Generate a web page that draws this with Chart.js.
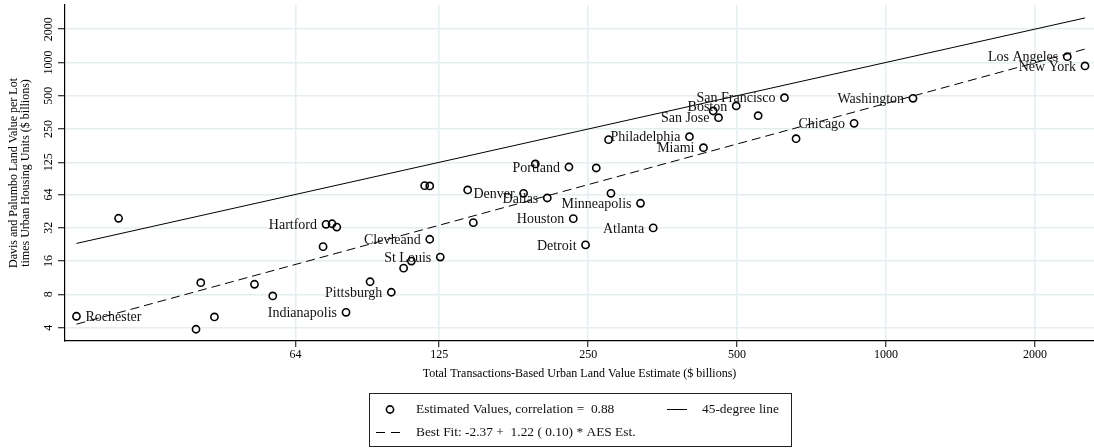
<!DOCTYPE html>
<html>
<head>
<meta charset="utf-8">
<script src="https://cdn.jsdelivr.net/npm/chart.js@4.4.1/dist/chart.umd.min.js"></script>
<style>
  html, body { margin: 0; padding: 0; background: #fff; overflow: hidden; }
  #wrap { width: 1094px; height: 448px; position: relative; }
  canvas { display: block; }
</style>
</head>
<body>
<div id="wrap"><canvas id="c" width="1094" height="448"></canvas></div>
<script>
// ---------------- data ----------------
const cityNames = [
  'Rochester', '', '', '', '', '', '', '', 'Hartford', '', '',
  'Indianapolis', '', 'Pittsburgh', '', '', '', '', 'Clevleand', 'St Louis',
  '', '', 'Denver', '', 'Dallas', 'Portland', 'Houston', 'Detroit', '', '', '',
  'Minneapolis', 'Atlanta', 'Philadelphia', 'Miami', '', 'San Jose', 'Boston', '',
  'San Francisco', '', 'Chicago', 'Washington', 'Los Angeles', 'New York'
];
const aesEstimate = [
  23.1, 28.1, 40.3, 41.2, 43.9, 52.9, 57.6, 72.8, 73.8, 75.9, 77.6,
  81.0, 90.6, 100.0, 105.9, 109.8, 116.8, 119.6, 119.6, 125.6,
  142.7, 146.5, 185.1, 195.5, 206.7, 228.6, 233.3, 247, 259.6, 274.9, 278,
  319, 338.4, 400.6, 427.6, 447.4, 458.6, 498, 551.5,
  623.4, 658, 862, 1134, 2325, 2525
];
const dpLandValue = [
  5.07, 39.0, 3.87, 10.2, 5.0, 9.87, 7.74, 21.6, 34.4, 34.8, 32.5,
  5.51, 10.4, 8.36, 13.8, 16.0, 76.9, 76.4, 25.2, 17.4,
  70.3, 35.6, 65.6, 120.8, 59.5, 113.4, 38.7, 22.4, 111.1, 200.3, 65.6,
  53.3, 31.9, 213.2, 169.5, 364, 316.5, 404, 330,
  480, 204.5, 281.7, 474, 1127, 929
];
const lineEndsX = [23.1, 2525];
const degree45Y = [23.1, 2525];
const bestFitY = [4.3, 1320];

const xTickValues = [64, 125, 250, 500, 1000, 2000];
const xTickLabels = ['64', '125', '250', '500', '1000', '2000'];
const yTickValues = [4, 8, 16, 32, 64, 125, 250, 500, 1000, 2000];
const yTickLabels = ['4', '8', '16', '32', '64', '125', '250', '500', '1000', '2000'];

const xTitle = 'Total Transactions-Based Urban Land Value Estimate ($ billions)';
const yTitle = ['Davis and Palumbo Land Value per Lot', 'times Urban Housing Units ($ billions)'];
const seriesLabels = [
  'Estimated Values, correlation =  0.88',
  '45-degree line',
  'Best Fit: -2.37 +  1.22 ( 0.10) * AES Est.'
];
const rightLabeled = ['Rochester'];

// ---------------- rendering ----------------
const SERIF = "'Liberation Serif', 'Times New Roman', Times, serif";

const pointsData = aesEstimate.map((x, i) => ({ x: x, y: dpLandValue[i] }));
const deg45Data = lineEndsX.map((x, i) => ({ x: x, y: degree45Y[i] }));
const fitData = lineEndsX.map((x, i) => ({ x: x, y: bestFitY[i] }));

const labelPlugin = {
  id: 'cityLabels',
  afterDatasetsDraw(chart) {
    const ctx = chart.ctx;
    const meta = chart.getDatasetMeta(0);
    ctx.save();
    ctx.font = '14px ' + SERIF;
    ctx.fillStyle = '#111';
    ctx.textBaseline = 'middle';
    meta.data.forEach((pt, i) => {
      const name = cityNames[i];
      if (!name) return;
      const right = rightLabeled.includes(name);
      ctx.textAlign = right ? 'left' : 'right';
      ctx.fillText(name, pt.x + (right ? 9 : -9), pt.y + 1);
    });
    ctx.restore();
  }
};

const legendPlugin = {
  id: 'boxLegend',
  afterDraw(chart) {
    const ctx = chart.ctx;
    const ds = chart.data.datasets;
    ctx.save();
    ctx.fillStyle = '#fff';
    ctx.fillRect(369.5, 393.5, 422, 53);
    ctx.strokeStyle = '#222';
    ctx.lineWidth = 1;
    ctx.strokeRect(369.5, 393.5, 422, 53);
    ctx.lineWidth = 1.6;
    ctx.strokeStyle = '#000';
    ctx.beginPath();
    ctx.arc(390, 409.5, 3.6, 0, Math.PI * 2);
    ctx.stroke();
    ctx.lineWidth = 1;
    ctx.beginPath();
    ctx.moveTo(667, 409.5); ctx.lineTo(687, 409.5);
    ctx.stroke();
    ctx.beginPath();
    ctx.moveTo(376, 432.5); ctx.lineTo(385, 432.5);
    ctx.moveTo(391, 432.5); ctx.lineTo(400, 432.5);
    ctx.stroke();
    ctx.font = '13.4px ' + SERIF;
    ctx.fillStyle = '#111';
    ctx.textBaseline = 'middle';
    ctx.textAlign = 'left';
    ctx.fillText(ds[0].label, 416, 409.5);
    ctx.fillText(ds[1].label, 702, 409.5);
    ctx.fillText(ds[2].label, 416, 432.5);
    ctx.restore();
  }
};

const bgPlugin = {
  id: 'bg',
  beforeDraw(chart) {
    const ctx = chart.ctx;
    ctx.save();
    ctx.fillStyle = '#fff';
    ctx.fillRect(0, 0, chart.width, chart.height);
    ctx.restore();
  }
};

new Chart(document.getElementById('c'), {
  type: 'scatter',
  data: {
    datasets: [
      {
        label: seriesLabels[0],
        data: pointsData,
        showLine: false,
        pointStyle: 'circle',
        pointRadius: 3.6,
        pointBorderWidth: 1.6,
        borderColor: '#000',
        backgroundColor: 'rgba(0,0,0,0)',
        pointBackgroundColor: 'rgba(0,0,0,0)',
        order: 1
      },
      {
        label: seriesLabels[1],
        type: 'line',
        data: deg45Data,
        borderColor: '#000',
        borderWidth: 1,
        pointRadius: 0,
        fill: false,
        order: 2
      },
      {
        label: seriesLabels[2],
        type: 'line',
        data: fitData,
        borderColor: '#000',
        borderWidth: 1,
        borderDash: [9, 5],
        pointRadius: 0,
        fill: false,
        order: 3
      }
    ]
  },
  options: {
    responsive: false,
    animation: false,
    devicePixelRatio: 1,
    layout: { autoPadding: false, padding: { top: 5, left: 0, right: 0, bottom: 62 } },
    plugins: {
      legend: { display: false },
      tooltip: { enabled: false },
      title: { display: false }
    },
    scales: {
      x: {
        type: 'logarithmic',
        position: 'bottom',
        min: 21.9,
        max: 2633,
        afterBuildTicks: (s) => { s.ticks = xTickValues.map(v => ({ value: v })); },
        afterFit: (s) => { s.height = 45; s.paddingLeft = 0; s.paddingRight = 0; },
        ticks: {
          autoSkip: false,
          maxRotation: 0,
          minRotation: 0,
          padding: 1,
          color: '#000',
          font: { family: SERIF, size: 12 },
          callback: (v, i) => xTickLabels[i]
        },
        grid: {
          color: '#e5eef0',
          lineWidth: 1.5,
          drawTicks: true,
          tickColor: '#000',
          tickLength: 6,
          tickWidth: 1
        },
        border: { display: true, color: '#000', width: 1.2 },
        title: {
          display: true,
          text: xTitle,
          color: '#000',
          font: { family: SERIF, size: 12 },
          padding: { top: 0, bottom: 5 }
        }
      },
      y: {
        type: 'logarithmic',
        position: 'left',
        min: 3.03,
        max: 3306,
        afterBuildTicks: (s) => { s.ticks = yTickValues.map(v => ({ value: v })); },
        afterFit: (s) => { s.width = 65; s.paddingTop = 0; s.paddingBottom = 0; },
        ticks: {
          autoSkip: false,
          minRotation: 90,
          maxRotation: 90,
          crossAlign: 'center',
          padding: -3,
          color: '#000',
          font: { family: SERIF, size: 12 },
          callback: (v, i) => yTickLabels[i]
        },
        grid: {
          color: '#e5eef0',
          lineWidth: 1.5,
          drawTicks: true,
          tickColor: '#000',
          tickLength: 7,
          tickWidth: 1
        },
        border: { display: true, color: '#000', width: 1.2 },
        title: {
          display: true,
          text: yTitle,
          color: '#000',
          font: { family: SERIF, size: 12, lineHeight: 1.0 },
          padding: { top: 8, bottom: 0 }
        }
      }
    }
  },
  plugins: [bgPlugin, labelPlugin, legendPlugin]
});
</script>
</body>
</html>
